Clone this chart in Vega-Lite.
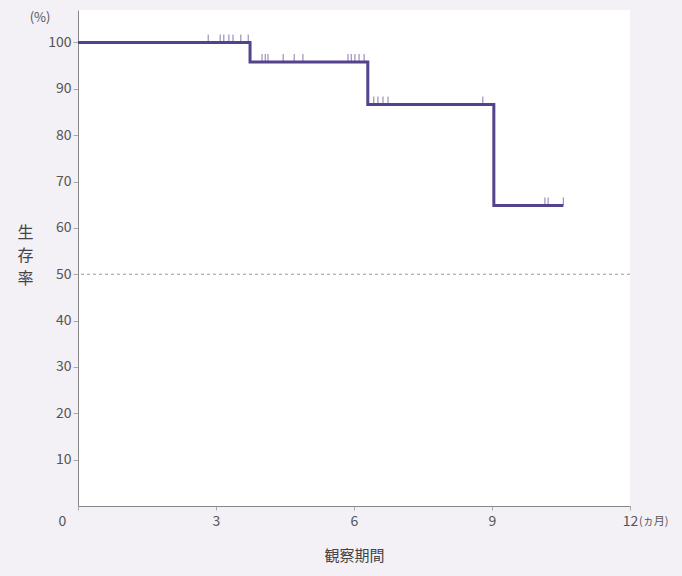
{
  "$schema": "https://vega.github.io/schema/vega-lite/v6.json",
  "width": 552,
  "height": 496,
  "autosize": "none",
  "padding": {"left": 78, "top": 10, "right": 52, "bottom": 70},
  "background": "#f3f0f6",
  "view": {"fill": "white", "stroke": null},
  "config": {"font": "Noto Sans CJK JP"},
  "datasets": {
    "km": [
      {"t": 0, "s": 100},
      {"t": 3.74, "s": 95.8},
      {"t": 6.30, "s": 86.6},
      {"t": 9.04, "s": 64.8},
      {"t": 10.55, "s": 64.8}
    ],
    "censor": [
      {"t": 2.83, "s": 100}, {"t": 3.09, "s": 100}, {"t": 3.17, "s": 100}, {"t": 3.28, "s": 100},
      {"t": 3.37, "s": 100}, {"t": 3.54, "s": 100}, {"t": 3.70, "s": 100},
      {"t": 4.00, "s": 95.8}, {"t": 4.07, "s": 95.8}, {"t": 4.13, "s": 95.8}, {"t": 4.46, "s": 95.8},
      {"t": 4.70, "s": 95.8}, {"t": 4.89, "s": 95.8}, {"t": 5.87, "s": 95.8}, {"t": 5.94, "s": 95.8},
      {"t": 6.02, "s": 95.8}, {"t": 6.11, "s": 95.8}, {"t": 6.22, "s": 95.8},
      {"t": 6.43, "s": 86.6}, {"t": 6.52, "s": 86.6}, {"t": 6.63, "s": 86.6}, {"t": 6.74, "s": 86.6},
      {"t": 8.80, "s": 86.6},
      {"t": 10.15, "s": 64.8}, {"t": 10.22, "s": 64.8}, {"t": 10.55, "s": 64.8}
    ],
    "ref": [{"s": 50}],
    "notes": [
      {"t": 0, "s": 100, "label": "(%)", "kind": "y"},
      {"t": 12, "s": 0, "label": "(ヵ月)", "kind": "x"}
    ]
  },
  "layer": [
    {
      "data": {"name": "ref"},
      "mark": {"type": "rule", "strokeDash": [3, 3], "color": "#9a9a9a", "strokeWidth": 1},
      "encoding": {
        "y": {"field": "s", "type": "quantitative", "scale": {"domain": [0, 107], "nice": false}}
      }
    },
    {
      "data": {"name": "km"},
      "mark": {"type": "line", "interpolate": "step-after", "color": "#54428e", "strokeWidth": 3},
      "encoding": {
        "x": {
          "field": "t", "type": "quantitative",
          "scale": {"domain": [0, 12], "nice": false},
          "axis": {
            "values": [0, 3, 6, 9, 12],
            "title": "観察期間",
            "grid": false,
            "labelFlush": false,
            "labelFontSize": 14,
            "labelColor": "#555",
            "labelOffset": {"condition": {"test": "datum.value === 0", "value": -16}, "value": 0},
            "labelPadding": 4,
            "tickSize": 4,
            "tickColor": "#aaa",
            "domainColor": "#888",
            "titleFontSize": 15,
            "titleFontWeight": "normal",
            "titleColor": "#444",
            "titlePadding": 20
          }
        },
        "y": {
          "field": "s", "type": "quantitative",
          "scale": {"domain": [0, 107], "nice": false},
          "axis": {
            "values": [10, 20, 30, 40, 50, 60, 70, 80, 90, 100],
            "title": ["生", "存", "率"],
            "titleAngle": 0,
            "titleX": -53,
            "titleY": 222,
            "titleAlign": "center",
            "titleBaseline": "middle",
            "titleLineHeight": 23,
            "titleFontSize": 16,
            "titleFontWeight": "normal",
            "titleColor": "#444",
            "grid": false,
            "labelFontSize": 14,
            "labelColor": "#555",
            "labelPadding": 2,
            "tickSize": 5,
            "tickColor": "#aaa",
            "domainColor": "#888"
          }
        }
      }
    },
    {
      "data": {"name": "censor"},
      "mark": {"type": "tick", "orient": "vertical", "size": 8, "thickness": 1, "yOffset": -4, "color": "#54428e"},
      "encoding": {
        "x": {"field": "t", "type": "quantitative"},
        "y": {"field": "s", "type": "quantitative"}
      }
    },
    {
      "data": {"name": "notes"},
      "transform": [{"filter": "datum.kind === 'y'"}],
      "mark": {"type": "text", "dx": -38, "dy": -24, "fontSize": 13, "color": "#555", "align": "center", "baseline": "middle"},
      "encoding": {
        "x": {"field": "t", "type": "quantitative"},
        "y": {"field": "s", "type": "quantitative"},
        "text": {"field": "label"}
      }
    },
    {
      "data": {"name": "notes"},
      "transform": [{"filter": "datum.kind === 'x'"}],
      "mark": {"type": "text", "dx": 9, "dy": 16, "fontSize": 11, "color": "#555", "align": "left", "baseline": "middle"},
      "encoding": {
        "x": {"field": "t", "type": "quantitative"},
        "y": {"field": "s", "type": "quantitative"},
        "text": {"field": "label"}
      }
    }
  ]
}
